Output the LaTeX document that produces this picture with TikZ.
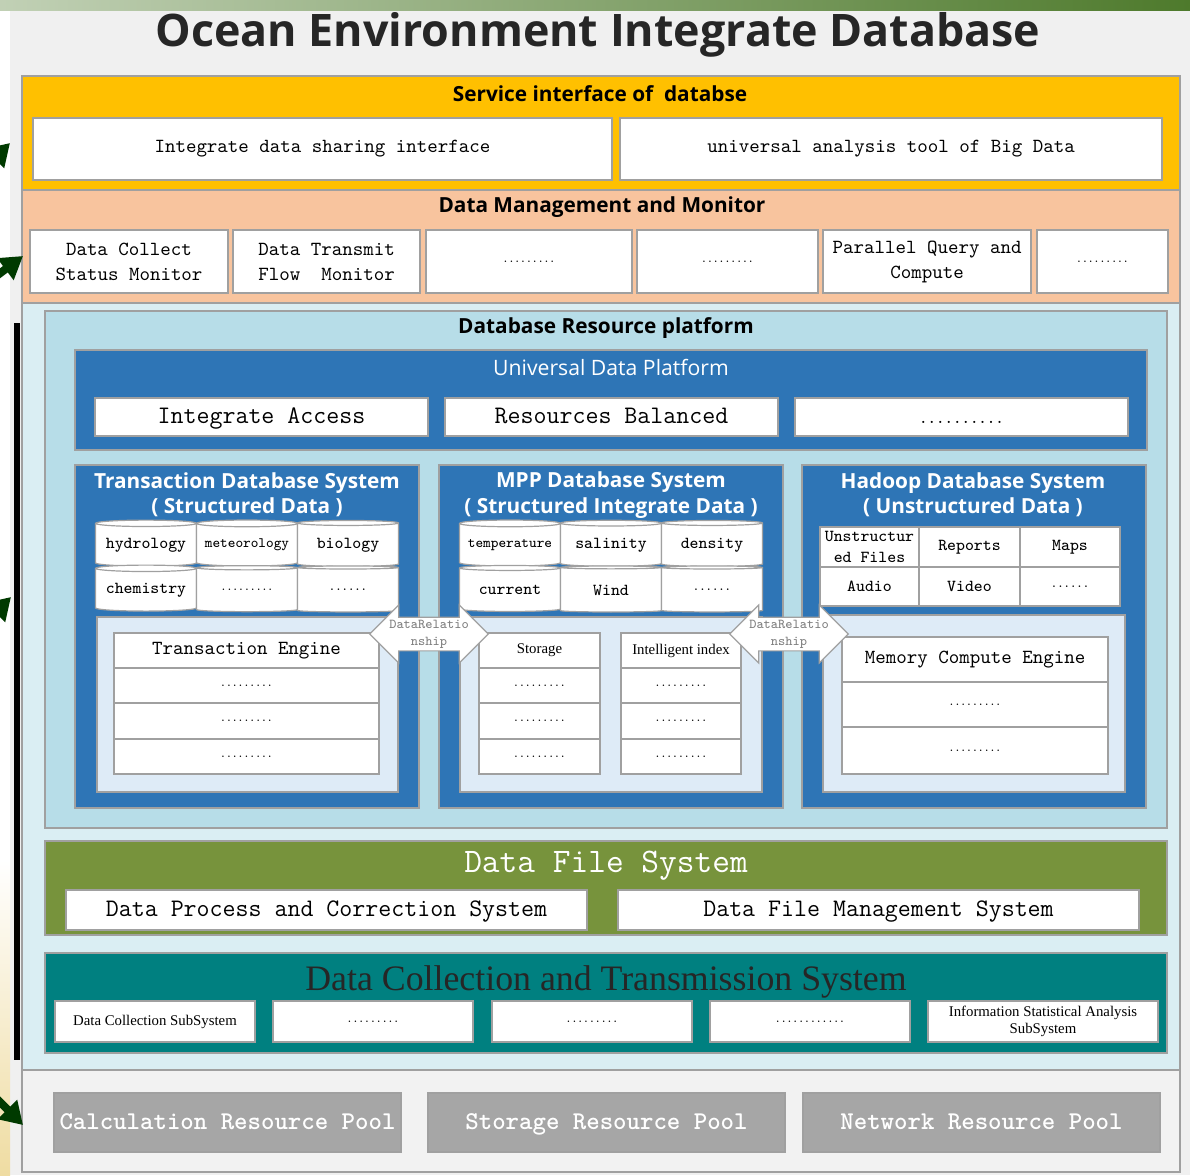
\documentclass[tikz,border=0pt]{standalone}
\usepackage{fontspec}
\newfontfamily\headfont{Open Sans}
\newfontfamily\timesfont{Liberation Serif}
\usepackage{tikz}
\usetikzlibrary{shapes.geometric,shapes.arrows,arrows.meta}
\definecolor{svcyellow}{HTML}{FFC000}
\definecolor{mgmtpeach}{HTML}{F8C49E}
\definecolor{paleblue}{HTML}{DAEEF3}
\definecolor{platblue}{HTML}{B7DDE8}
\definecolor{sysblue}{HTML}{2E75B6}
\definecolor{innerblue}{HTML}{DEEBF7}
\definecolor{fileolive}{HTML}{77933C}
\definecolor{collteal}{HTML}{008080}
\definecolor{poolgray}{HTML}{A6A6A6}
\definecolor{bandgray}{HTML}{F2F2F2}
\definecolor{slidegray}{HTML}{F0F0F0}
\definecolor{edgegray}{HTML}{A0A0A0}
\definecolor{titlegray}{HTML}{262626}
\definecolor{leafgreen}{HTML}{4E7A2C}
\definecolor{arrowgreen}{HTML}{003A00}
\definecolor{sandy}{HTML}{EFDCA2}
\newcommand{\fsz}[2]{\fontsize{#1}{#2}\selectfont}
\newcommand{\filler}{{\ttfamily\fsz{5.5}{6}.........}}
\tikzset{
    x=0.5pt, y=-0.5pt, % one unit is one pixel of the layout
    cover/.style n args={4}{at={({(#1+#3)/2},{(#2+#4)/2})}, minimum width={(#3-#1)*0.5pt}, minimum height={(#4-#2)*0.5pt}},
    }

\begin{document}
\begin{tikzpicture}[
panel/.style={draw=edgegray, line width=0.6pt, inner sep=0pt},
wbox/.style={draw=edgegray, fill=white, line width=0.6pt, inner sep=0pt, align=center, font=\ttfamily\fsz{10}{12.5}},
bigbox/.style={wbox, text height=0.8em, text depth=0.14em, font=\ttfamily\fsz{12.6}{14}},
cell/.style={wbox, font=\ttfamily\fsz{8.4}{10.5}},
headtext/.style={inner sep=0pt, font=\headfont\bfseries\fsz{10.4}{12}},
systitle/.style={inner sep=0pt, text=white, align=center, font=\headfont\bfseries\fsz{10.4}{12.6}},
dbcyl/.style={cylinder, shape border rotate=90, aspect=0.08, draw=edgegray, fill=white, line width=0.6pt, minimum width=50.5pt, minimum height=23pt, inner sep=0pt, font=\ttfamily\fsz{8.4}{10}},
relarrow/.style={double arrow, double arrow head extend=6pt, draw=edgegray, fill=white, line width=0.6pt, minimum height=50pt, inner sep=1pt, align=center, text=gray, font=\ttfamily\fsz{6.8}{8.6}},
smallserif/.style={wbox, font=\timesfont\fsz{7.4}{8.6}},
pool/.style={draw=edgegray, fill=poolgray, line width=0.6pt, inner sep=0pt, text height=0.8em, text depth=0.14em, text=white, font=\ttfamily\bfseries\fsz{12.8}{14}},
]
\useasboundingbox (0,0) rectangle (1190,1175);
% slide backdrop
\fill[slidegray] (0,0) rectangle (1190,1175);
\fill[white] (0,0) rectangle (10,1175);
\shade[top color=white, bottom color=sandy] (0,860) rectangle (10,1175);
\node[inner sep=0pt, anchor=base, text=titlegray, font=\headfont\bfseries\fsz{22.4}{26}] (title) at (598,46) {Ocean Environment Integrate Database};
\shade[left color=leafgreen!35, right color=leafgreen] (0,0) rectangle (1190,10);

% service layer
\node[panel, fill=svcyellow, cover={22}{76}{1180}{190}] (service) {};
\node[headtext] (servicetitle) at (600,94) {Service interface of\ \ databse};
\node[wbox, cover={33}{118}{612}{180}] (sharing) {Integrate data sharing interface};
\node[wbox, cover={620}{118}{1162}{180}] (bigdata) {universal analysis tool of Big Data};

% management layer
\node[panel, fill=mgmtpeach, cover={22}{190}{1180}{303}] (manage) {};
\node[headtext] (managetitle) at (602,207) {Data Management and Monitor};
\foreach \xa/\xb/\txt/\nm in {30/228/{Data Collect\\Status Monitor}/collectmon,
    233/420/{Data Transmit\\Flow\ \ Monitor}/transmitmon, 426/632/\filler/monb,
    637/818/\filler/monc, 823/1031/{Parallel Query and\\Compute}/parallel, 1037/1168/\filler/mond}
    \node[wbox, cover={\xa}{230}{\xb}{293}] (\nm) {\txt};

% resource area
\node[panel, fill=paleblue, cover={22}{303}{1180}{1070}] (resarea) {};
\node[panel, fill=bandgray, cover={22}{1070}{1180}{1172}] (poolband) {};
\node[panel, fill=platblue, cover={45}{311}{1167}{828}] (platform) {};
\node[headtext] (platformtitle) at (606,328) {Database Resource platform};

\node[panel, fill=sysblue, cover={75}{350}{1147}{450}] (universal) {};
\node[inner sep=0pt, text=white, font=\headfont\fsz{10.6}{12}] (universaltitle) at (611,367) {Universal Data Platform};
\node[bigbox, cover={95}{398}{428}{436}] (access) {Integrate Access};
\node[bigbox, cover={445}{398}{778}{436}] (balanced) {Resources Balanced};
\node[bigbox, cover={795}{398}{1128}{436}] (univmore) {{\fsz{8}{9}..........}};

% three database systems
\foreach \xa/\nm in {75/trans, 439/mpp, 802/hadoop}
    \node[panel, fill=sysblue, cover={\xa}{465}{\xa+344}{808}] (\nm) {};
\node[systitle] (transtitle) at (247,495) {Transaction Database System\\( Structured Data )};
\node[systitle] (mpptitle) at (611,495) {MPP Database System\\( Structured Integrate Data )};
\node[systitle] (hadooptitle) at (973,495) {Hadoop Database System\\( Unstructured Data )};

\node[dbcyl] (hydrology) at (146,545) {hydrology};
\node[dbcyl] (meteorology) at (247,545) {{\fsz{7.2}{8}meteorology}};
\node[dbcyl] (biology) at (348,545) {biology};
\node[dbcyl] (chemistry) at (146,590) {chemistry};
\node[dbcyl] (transmorea) at (247,590) {\filler};
\node[dbcyl] (transmoreb) at (348,590) {{\fsz{6}{7}......}};
\node[dbcyl] (temperature) at (510,545) {{\fsz{7.2}{8}temperature}};
\node[dbcyl] (salinity) at (611,545) {salinity};
\node[dbcyl] (density) at (712,545) {density};
\node[dbcyl] (current) at (510,590) {current};
\node[dbcyl] (wind) at (611,590) {Wind};
\node[dbcyl] (mppmore) at (712,590) {{\fsz{6}{7}......}};

\node[cell, cover={820}{527}{919}{567}] (unstructured) {Unstructur\\ed Files};
\node[cell, cover={919}{527}{1020}{567}] (reports) {Reports};
\node[cell, cover={1020}{527}{1120}{567}] (maps) {Maps};
\node[cell, cover={820}{567}{919}{606}] (audio) {Audio};
\node[cell, cover={919}{567}{1020}{606}] (video) {Video};
\node[cell, cover={1020}{567}{1120}{606}] (hadoopmore) {{\fsz{6}{7}......}};

\node[panel, fill=innerblue, cover={97}{617}{398}{792}] (transinner) {};
\node[panel, fill=innerblue, cover={460}{617}{762}{792}] (mppinner) {};
\node[panel, fill=innerblue, cover={823}{615}{1125}{792}] (hadoopinner) {};

\node[wbox, cover={114}{633}{379}{668}] (engine) {Transaction Engine};
\node[smallserif, cover={479}{633}{600}{668}] (storage) {Storage};
\node[smallserif, cover={621}{633}{741}{668}] (index) {Intelligent index};
\foreach \ya/\yb/\nm in {668/703/a, 703/739/b, 739/774/c} {
    \node[wbox, cover={114}{\ya}{379}{\yb}] (engine\nm) {\filler};
    \node[wbox, cover={479}{\ya}{600}{\yb}] (storage\nm) {\filler};
    \node[wbox, cover={621}{\ya}{741}{\yb}] (index\nm) {\filler};
}
\node[wbox, cover={842}{637}{1108}{682}] (memory) {Memory Compute Engine};
\node[wbox, cover={842}{682}{1108}{727}] (memorya) {\filler};
\node[wbox, cover={842}{727}{1108}{774}] (memoryb) {\filler};

\node[relarrow] (relleft) at (429,634) {DataRelatio\\nship};
\node[relarrow] (relright) at (789,634) {DataRelatio\\nship};

% file system
\node[panel, fill=fileolive, cover={45}{841}{1167}{935}] (filesys) {};
\node[inner sep=0pt, text=white, font=\ttfamily\fsz{17.2}{19}] (filetitle) at (606,866) {Data File System};
\node[bigbox, cover={66}{890}{587}{930}] (process) {Data Process and Correction System};
\node[bigbox, cover={618}{890}{1139}{930}] (filemanage) {Data File Management System};

% collection system
\node[panel, fill=collteal, cover={45}{953}{1167}{1053}] (collection) {};
\node[inner sep=0pt, text=titlegray, font=\timesfont\fsz{17.9}{20}] (colltitle) at (606,982) {Data Collection and Transmission System};
\node[smallserif, cover={55}{1001}{255}{1042}] (collsub) {Data Collection SubSystem};
\node[wbox, cover={273}{1001}{473}{1042}] (colla) {\filler};
\node[wbox, cover={492}{1001}{692}{1042}] (collb) {\filler};
\node[wbox, cover={710}{1001}{910}{1042}] (collc) {{\ttfamily\fsz{5.5}{6}............}};
\node[smallserif, cover={928}{1001}{1158}{1042}] (statsub) {Information Statistical Analysis\\SubSystem};

% resource pools
\node[pool, cover={54}{1093}{401}{1152}] (calcpool) {Calculation Resource Pool};
\node[pool, cover={428}{1093}{785}{1152}] (storepool) {Storage Resource Pool};
\node[pool, cover={803}{1093}{1160}{1152}] (netpool) {Network Resource Pool};

% pieces of the slide beyond the crop
\draw[black, line width=2.6pt] (17,323) -- (17,1060);
\coordinate (tipa) at (10,143);
\coordinate (tipb) at (23,256);
\coordinate (tipc) at (11,597);
\coordinate (tipd) at (23,1125);
\foreach \tp/\dx/\dy in {tipa/-40/40, tipb/-40/30, tipc/-40/40, tipd/-40/-40}
    \draw[arrowgreen, line width=4pt, -{Triangle[length=11pt, width=13pt]}] ([shift={(\dx,\dy)}]\tp) -- (\tp);
\end{tikzpicture}
\end{document}
